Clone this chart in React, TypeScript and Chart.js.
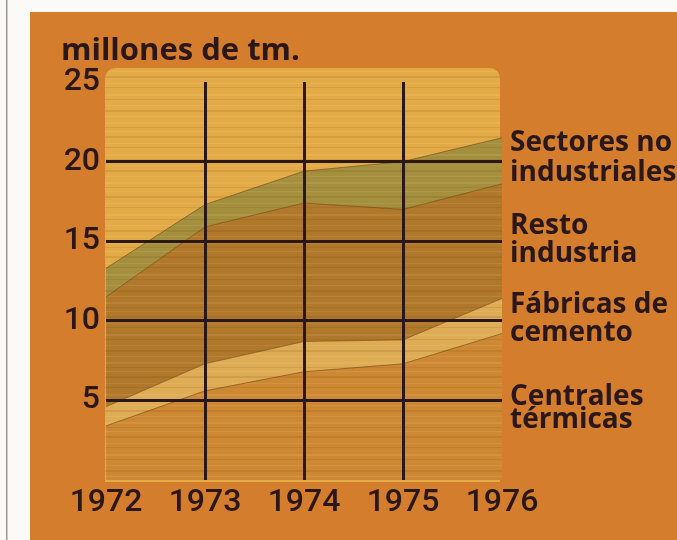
import { useEffect, useRef } from 'react';
import { Chart, registerables } from 'chart.js';

Chart.register(...registerables);

const years = ['1972', '1973', '1974', '1975', '1976'];
const centrales = [3.4, 5.6, 6.8, 7.3, 9.2];
const cemento = [1.2, 1.7, 1.9, 1.5, 2.2];
const resto = [6.9, 8.6, 8.7, 8.2, 7.2];
const sectores = [1.8, 1.4, 2.0, 3.0, 2.9];
const seriesNames = ['Centrales térmicas', 'Fábricas de cemento', 'Resto industria', 'Sectores no industriales'];
const sideLabels = [
  ['Sectores no', 'industriales'],
  ['Resto', 'industria'],
  ['Fábricas de', 'cemento'],
  ['Centrales', 'térmicas'],
];
const yTicks = [5, 10, 15, 20, 25];
const unitTitle = 'millones de tm.';

const INK = '#2a171a';
const grainRows = [2, 7, 11, 16, 23, 27, 34, 39, 45, 50, 56];

function wood(base: string): CanvasPattern | string {
  const c = document.createElement('canvas');
  c.width = 4;
  c.height = 60;
  const g = c.getContext('2d');
  if (!g) return base;
  g.fillStyle = base;
  g.fillRect(0, 0, 4, 60);
  grainRows.forEach((y, i) => {
    g.fillStyle = i % 2 ? 'rgba(110,55,0,0.12)' : 'rgba(255,235,170,0.10)';
    g.fillRect(0, y, 4, i % 3 === 0 ? 2 : 1);
  });
  return g.createPattern(c, 'repeat') || base;
}

export default function App() {
  const ref = useRef<HTMLCanvasElement | null>(null);

  useEffect(() => {
    const canvas = ref.current;
    if (!canvas) return;
    const panelFill = wood('#e3ab48');

    const backdrop = {
      id: 'backdrop',
      beforeDraw(chart: any) {
        const { ctx, chartArea } = chart;
        ctx.save();
        ctx.fillStyle = '#fbfaf7';
        ctx.fillRect(0, 0, chart.width, chart.height);
        ctx.fillStyle = '#9a9a96';
        ctx.fillRect(6, 0, 1.5, chart.height);
        ctx.fillStyle = '#d37d2d';
        ctx.fillRect(30, 12, chart.width - 30, chart.height - 12);
        // wood panel
        const l = chartArea.left - 1;
        const r = chartArea.right - 2;
        const t = chartArea.top - 14;
        const b = chartArea.bottom + 2;
        const rad = 12;
        ctx.beginPath();
        ctx.moveTo(l, b);
        ctx.lineTo(l, t + rad);
        ctx.quadraticCurveTo(l, t, l + rad, t);
        ctx.lineTo(r - rad, t);
        ctx.quadraticCurveTo(r, t, r, t + rad);
        ctx.lineTo(r, b);
        ctx.closePath();
        ctx.fillStyle = panelFill;
        ctx.fill();
        ctx.restore();
      },
      afterDraw(chart: any) {
        const { ctx } = chart;
        const y = chart.scales.y;
        ctx.save();
        ctx.fillStyle = INK;
        ctx.textAlign = 'left';
        ctx.textBaseline = 'alphabetic';
        ctx.font = 'bold 31px "Open Sans", sans-serif';
        ctx.fillText(unitTitle, 61, 60);
        ctx.font = 'bold 28px "Open Sans", sans-serif';
        ctx.textBaseline = 'middle';
        const anchors = [20, 15, 10, 5];
        const offs = [[-19, 11], [-15, 13], [-16, 12], [-3, 20]];
        sideLabels.forEach((lines, i) => {
          const py = y.getPixelForValue(anchors[i]);
          lines.forEach((s, j) => ctx.fillText(s, 510, py + offs[i][j]));
        });
        ctx.restore();
      },
    };

    const edge = 'rgba(95,55,15,0.5)';
    const tickFont = { family: 'Roboto, "Liberation Sans", Arial, sans-serif', size: 32, weight: '500' as any };
    const chart = new Chart(canvas, {
      type: 'line',
      data: {
        labels: years,
        datasets: [
          { label: seriesNames[0], data: centrales, backgroundColor: wood('#cd8834'), borderColor: edge, borderWidth: 1, fill: 'origin', pointRadius: 0, tension: 0 },
          { label: seriesNames[1], data: cemento, backgroundColor: wood('#ddac55'), borderColor: edge, borderWidth: 1, fill: '-1', pointRadius: 0, tension: 0 },
          { label: seriesNames[2], data: resto, backgroundColor: wood('#b0782b'), borderColor: edge, borderWidth: 1, fill: '-1', pointRadius: 0, tension: 0 },
          { label: seriesNames[3], data: sectores, backgroundColor: wood('#a48f3e'), borderColor: edge, borderWidth: 1, fill: '-1', pointRadius: 0, tension: 0 },
        ],
      },
      options: {
        animation: false,
        responsive: false,
        maintainAspectRatio: false,
        layout: { padding: { top: 82, right: 175, left: 0, bottom: 0 } },
        plugins: { legend: { display: false }, tooltip: { enabled: false } },
        scales: {
          x: {
            offset: false,
            border: { display: false },
            grid: {
              z: 1,
              drawTicks: false,
              lineWidth: 3,
              color: (c: any) => (c.index >= 1 && c.index <= 3 ? INK : 'rgba(0,0,0,0)'),
            },
            ticks: { color: INK, padding: 4, font: tickFont },
            afterFit: (s: any) => { s.height = 60; },
          },
          y: {
            stacked: true,
            min: 0,
            max: 25,
            border: { display: false },
            grid: {
              z: 1,
              drawTicks: false,
              lineWidth: 3,
              color: (c: any) => (c.tick && c.tick.value > 0 && c.tick.value < 25 ? INK : 'rgba(0,0,0,0)'),
            },
            afterBuildTicks: (s: any) => { s.ticks = [0, ...yTicks].map((v) => ({ value: v })); },
            ticks: {
              color: INK,
              padding: 6,
              font: tickFont,
              callback: (v: any) => (v === 0 ? '' : String(v)),
            },
            afterFit: (s: any) => { s.width = 106; },
          },
        },
      },
      plugins: [backdrop],
    });
    return () => chart.destroy();
  }, []);

  return (
    <div style={{ position: 'fixed', left: 0, top: 0, width: 677, height: 540 }}>
      <canvas ref={ref} width={677} height={540} style={{ width: 677, height: 540, display: 'block' }} />
    </div>
  );
}
